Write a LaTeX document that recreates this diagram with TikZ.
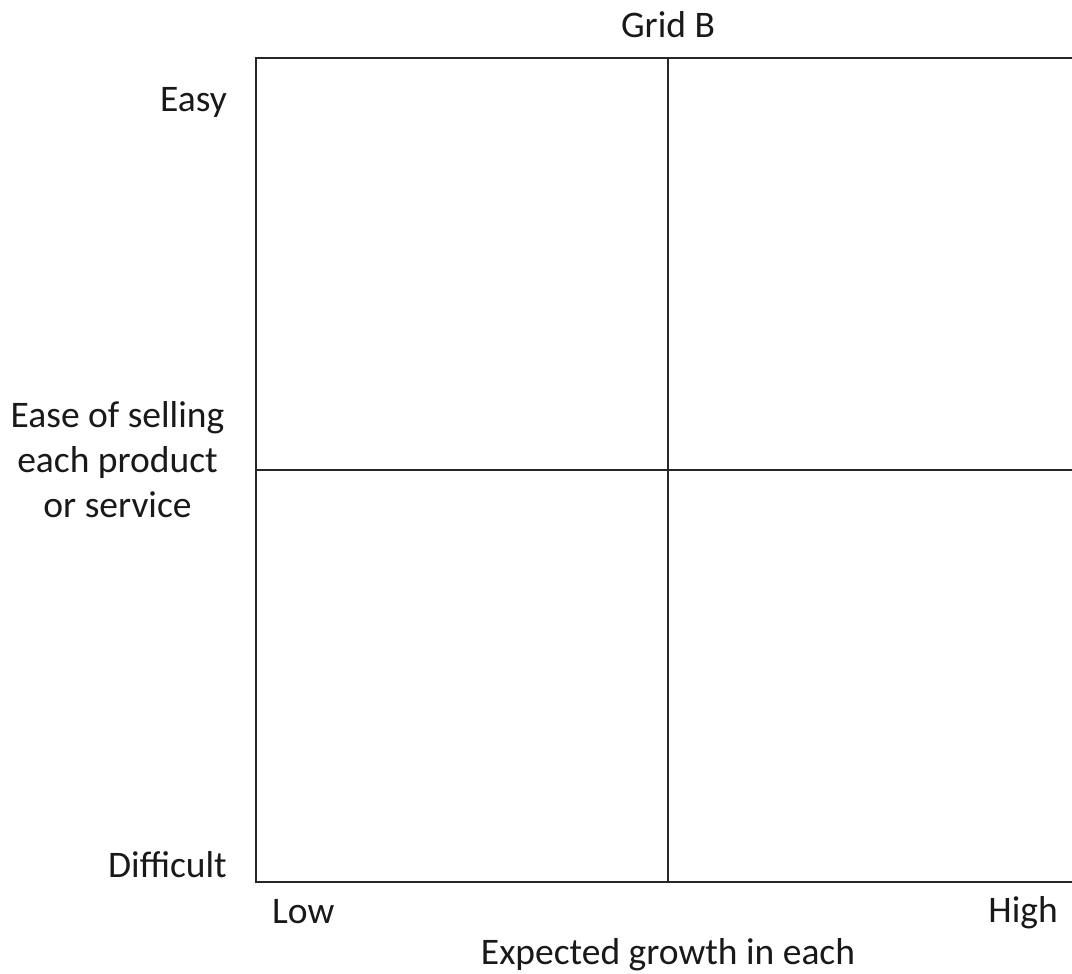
\documentclass[tikz,border=0pt]{standalone}
\usepackage{fontspec}
\setmainfont{Carlito}
\begin{document}
\begin{tikzpicture}[x=1pt,y=-1pt,
  lbl/.style={inner sep=0pt,font=\fontsize{37.5}{45}\selectfont,text=black!90},
  gridline/.style={line width=1.5pt,black!85}]
\useasboundingbox (0,0) rectangle (1072,974);
\coordinate (tl) at (256,58);
\coordinate (bl) at (256,882);
\coordinate (tr) at (1072,58);
\coordinate (br) at (1072,882);
\coordinate (mt) at (668,58);
\coordinate (mb) at (668,882);
\coordinate (ml) at (256,470);
\coordinate (mr) at (1072,470);
\draw[gridline] (tr) -- (tl) -- (bl) -- (br);
\draw[gridline] (mt) -- (mb);
\draw[gridline] (ml) -- (mr);
\node[lbl,anchor=base] (title) at (668,38) {Grid B};
\node[lbl,anchor=base east] (easy) at (227,112) {Easy};
\node[lbl,anchor=base east] (diff) at (227,877) {Difficult};
\node[lbl,align=center] (ylab) at (117.5,460) {Ease of selling\\each product\\or service};
\node[lbl,anchor=base west] (low) at (272,923) {Low};
\node[lbl,anchor=base east] (high) at (1058,922) {High};
\node[lbl,anchor=base] (xlab) at (668,964) {Expected growth in each};
\end{tikzpicture}
\end{document}
